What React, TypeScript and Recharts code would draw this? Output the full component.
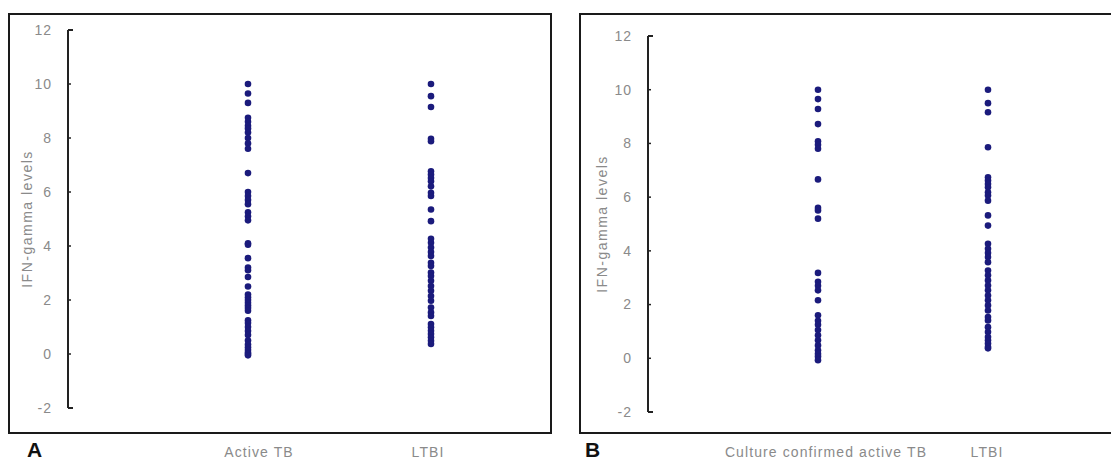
import { Scatter, ScatterChart, XAxis, YAxis } from "recharts";

const Y_TICKS = [-2, 0, 2, 4, 6, 8, 10, 12];
const Y_LABEL = "IFN-gamma levels";

const CATS_A = ["Active TB", "LTBI"];
const CATS_B = ["Culture confirmed active TB", "LTBI"];

// IFN-gamma levels, one dot per patient
const activeTB = [
  10.0, 9.65, 9.3, 8.75, 8.6, 8.45, 8.35, 8.2, 8.0, 7.8, 7.6, 6.7, 6.0, 5.85, 5.7,
  5.55, 5.25, 5.1, 4.95, 4.1, 4.05, 3.55, 3.2, 3.1, 2.85, 2.5, 2.2, 2.1, 2.0, 1.9,
  1.8, 1.7, 1.6, 1.25, 1.15, 1.0, 0.85, 0.7, 0.5, 0.35, 0.25, 0.15, 0.05, 0, -0.05,
];
const ltbiA = [
  10.0, 9.55, 9.15, 7.97, 7.88, 6.77, 6.65, 6.52, 6.4, 6.21, 5.97, 5.85, 5.35, 4.92,
  4.27, 4.12, 3.94, 3.78, 3.63, 3.38, 3.26, 3.02, 2.89, 2.71, 2.52, 2.34, 2.15, 1.97,
  1.72, 1.54, 1.41, 1.11, 0.99, 0.86, 0.74, 0.62, 0.49, 0.37,
];
const cultureTB = [
  10.0, 9.65, 9.28, 8.72, 8.08, 7.95, 7.8, 6.66, 5.6, 5.5, 5.2, 3.18, 2.85, 2.7, 2.53,
  2.16, 1.6, 1.4, 1.25, 1.05, 0.86, 0.67, 0.48, 0.3, 0.17, 0.07, -0.07,
];
const ltbiB = [
  10.0, 9.5, 9.16, 7.86, 6.74, 6.62, 6.49, 6.37, 6.18, 6.06, 5.87, 5.32, 4.94, 4.26,
  4.08, 3.92, 3.77, 3.58, 3.27, 3.09, 2.9, 2.71, 2.53, 2.34, 2.16, 1.97, 1.78, 1.54,
  1.41, 1.16, 0.98, 0.79, 0.67, 0.55, 0.42, 0.37,
];

const DOT = "#1b1b7c";
const GREY = "#8a8a8a";
const FONT = '"Liberation Sans", Arial, sans-serif';

const toPoints = (vals: number[], x: number) => vals.map((y) => ({ x, y }));

function Dot(props: any) {
  if (props.cx == null || props.cy == null) return null;
  return <circle cx={props.cx} cy={props.cy} r={3.3} fill={DOT} />;
}

function YTick({ x, y, payload }: any) {
  const end = payload.value === 12 || payload.value === -2;
  return (
    <g>
      <text
        x={x}
        y={y}
        dy="0.35em"
        textAnchor="end"
        fill={GREY}
        fontSize={14}
        fontFamily={FONT}
        letterSpacing={1}
      >
        {payload.value}
      </text>
      <line
        x1={x + 16}
        x2={x + 16 + (end ? 5 : 3)}
        y1={y}
        y2={y}
        stroke="#222"
        strokeWidth={end ? 2 : 1.5}
      />
    </g>
  );
}

function YLabel({ viewBox, offsetX }: any) {
  if (!viewBox) return null;
  const cx = viewBox.x + offsetX;
  const cy = viewBox.y + viewBox.height / 2;
  return (
    <text
      x={cx}
      y={cy}
      transform={`rotate(-90 ${cx} ${cy})`}
      textAnchor="middle"
      dominantBaseline="central"
      fill={GREY}
      fontSize={14}
      fontFamily={FONT}
      letterSpacing={1.5}
    >
      {Y_LABEL}
    </text>
  );
}

function Panel({
  left,
  width,
  top,
  xAxisHeight,
  yAxisWidth,
  padLeft,
  right,
  cats,
  labelDx,
  labelX,
  groups,
}: {
  left: number;
  width: number;
  top: number;
  xAxisHeight: number;
  yAxisWidth: number;
  padLeft: number;
  right: number;
  cats: string[];
  labelDx: number[];
  labelX: number;
  groups: number[][];
}) {
  const XTick = ({ x, y, payload }: any) => {
    const i = payload.value - 1;
    return (
      <text
        x={x + labelDx[i]}
        y={y}
        dy="0.35em"
        textAnchor="middle"
        fill={GREY}
        fontSize={14}
        fontFamily={FONT}
        letterSpacing={1.1}
      >
        {cats[i]}
      </text>
    );
  };
  return (
    <div style={{ position: "absolute", left, top: 0 }}>
      <ScatterChart
        width={width}
        height={461}
        margin={{ top, right, bottom: 0, left: 0 }}
      >
        <XAxis
          type="number"
          dataKey="x"
          domain={[0.5, 2.5]}
          ticks={[1, 2]}
          padding={{ left: padLeft, right: 0 }}
          axisLine={false}
          tickLine={false}
          tickSize={0}
          tickMargin={452 - (461 - xAxisHeight)}
          height={xAxisHeight}
          tick={<XTick />}
          allowDataOverflow
        />
        <YAxis
          type="number"
          dataKey="y"
          domain={[-2, 12]}
          ticks={Y_TICKS}
          interval={0}
          width={yAxisWidth}
          axisLine={{ stroke: "#222", strokeWidth: 2 }}
          tickLine={false}
          tickSize={0}
          tickMargin={16}
          tick={<YTick />}
          label={<YLabel offsetX={labelX} />}
          allowDataOverflow
        />
        {groups.map((g, i) => (
          <Scatter
            key={i}
            data={toPoints(g, i + 1)}
            shape={<Dot />}
            isAnimationActive={false}
          />
        ))}
      </ScatterChart>
    </div>
  );
}

const frame = {
  position: "absolute" as const,
  top: 13,
  height: 421,
  border: "2px solid #1a1a1a",
  boxSizing: "border-box" as const,
};

const letter = {
  position: "absolute" as const,
  top: 439,
  fontFamily: FONT,
  fontWeight: 700,
  fontSize: 21,
  lineHeight: "21px",
  color: "#111",
};

export default function App() {
  return (
    <div
      style={{
        position: "absolute",
        left: 0,
        top: 0,
        width: 1111,
        height: 461,
        background: "#fff",
        overflow: "hidden",
      }}
    >
      <div style={{ ...frame, left: 8, width: 544 }} />
      <div style={{ ...frame, left: 579, width: 700, borderRight: "none" }} />
      <div style={{ ...letter, left: 27 }}>A</div>
      <div style={{ ...letter, left: 585 }}>B</div>
      <Panel
        left={0}
        width={560}
        top={30}
        xAxisHeight={53}
        yAxisWidth={68}
        padLeft={88.5}
        right={37.5}
        cats={CATS_A}
        labelDx={[11, -3]}
        labelX={27}
        groups={[activeTB, ltbiA]}
      />
      <Panel
        left={560}
        width={551}
        top={36}
        xAxisHeight={49}
        yAxisWidth={88}
        padLeft={85}
        right={38}
        cats={CATS_B}
        labelDx={[8, -1]}
        labelX={42}
        groups={[cultureTB, ltbiB]}
      />
    </div>
  );
}
